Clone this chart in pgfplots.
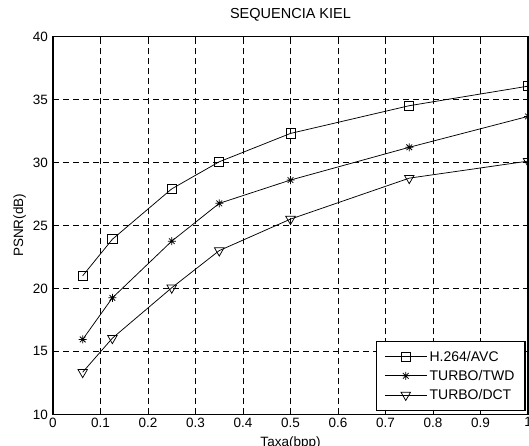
\documentclass[border=0pt]{standalone}
\usepackage{fontspec}
\setmainfont{Liberation Sans}
\usepackage{pgfplots}
\pgfplotsset{compat=1.18}

\newcommand{\ff}{\fontsize{13.5}{16}\selectfont}

% MATLAB-like '*' marker: + and x together
\pgfdeclareplotmark{mstar}{%
  \pgfpathmoveto{\pgfqpoint{0pt}{\pgfplotmarksize}}%
  \pgfpathlineto{\pgfqpoint{0pt}{-\pgfplotmarksize}}%
  \pgfpathmoveto{\pgfqpoint{\pgfplotmarksize}{0pt}}%
  \pgfpathlineto{\pgfqpoint{-\pgfplotmarksize}{0pt}}%
  \pgfpathmoveto{\pgfqpoint{.707\pgfplotmarksize}{.707\pgfplotmarksize}}%
  \pgfpathlineto{\pgfqpoint{-.707\pgfplotmarksize}{-.707\pgfplotmarksize}}%
  \pgfpathmoveto{\pgfqpoint{-.707\pgfplotmarksize}{.707\pgfplotmarksize}}%
  \pgfpathlineto{\pgfqpoint{.707\pgfplotmarksize}{-.707\pgfplotmarksize}}%
  \pgfusepathqstroke}

\begin{document}
\begin{tikzpicture}
\begin{axis}[
    name=ax,
    scale only axis,
    width=475pt, height=378pt,
    xmin=0, xmax=1, ymin=10, ymax=40,
    xtick={0,0.1,0.2,0.3,0.4,0.5,0.6,0.7,0.8,0.9,1},
    ytick={10,15,20,25,30,35,40},
    /pgf/number format/assume math mode=true,
    grid=major,
    grid style={black, line width=0.6pt, dash pattern=on 6pt off 4pt},
    axis line style={black, line width=1.2pt},
    tick align=inside, major tick length=5pt,
    tick style={black, line width=0.6pt},
    tick label style={font=\ff},
    xticklabel style={anchor=north, inner sep=0pt, yshift=-3pt},
    yticklabel style={anchor=east, inner sep=0pt, xshift=-5pt},
    title={SEQUENCIA KIEL},
    title style={font=\fontsize{14.5}{17}\selectfont, at={(0.5,1)}, anchor=base, yshift=12pt, inner sep=0pt},
    xlabel={Taxa(bpp)},
    xlabel style={font=\ff, at={(0.5,0)}, anchor=base, yshift=-32pt, inner sep=0pt},
    ylabel={PSNR(dB)},
    ylabel style={font=\ff, at={(0,0.5)}, anchor=base, yshift=30pt, inner sep=0pt},
    legend cell align=left,
    legend image code/.code={%
        \draw[mark repeat=2,mark phase=2,#1]
        plot coordinates {(0pt,0pt) (21pt,0pt) (42pt,0pt)};},
    legend style={font=\fontsize{14}{16}\selectfont, at={(1,0)}, anchor=south east,
        xshift=-2.5pt, yshift=3.5pt,
        draw=black, line width=1.2pt, fill=white,
        inner xsep=8pt, inner ysep=7pt, row sep=2.5pt,
        nodes={inner sep=2.5pt}},
]
\addplot[black, line width=0.75pt, mark=square, mark size=4.6pt,
         mark options={solid, line width=0.75pt}]
    coordinates {(0.0625,21.0)(0.125,23.9)(0.25,27.9)(0.35,30.05)(0.5,32.3)(0.75,34.5)(1,36.05)};
\addlegendentry{H.264/AVC}
\addplot[black, line width=0.75pt, mark=mstar, mark size=4pt,
         mark options={solid, line width=0.75pt}]
    coordinates {(0.0625,15.95)(0.125,19.25)(0.25,23.75)(0.35,26.75)(0.5,28.6)(0.75,31.2)(1,33.65)};
\addlegendentry{TURBO/TWD}
\addplot[black, line width=0.75pt, mark=triangle, mark size=5.5pt,
         mark options={solid, rotate=180, line width=0.75pt}]
    coordinates {(0.0625,13.35)(0.125,16.05)(0.25,20.05)(0.35,23.0)(0.5,25.5)(0.75,28.75)(1,30.1)};
\addlegendentry{TURBO/DCT}
\end{axis}
\pgfresetboundingbox
\path[use as bounding box] ([xshift=-53pt,yshift=-30.7pt]ax.south west)
    rectangle ([xshift=1pt,yshift=36.4pt]ax.north east);
\end{tikzpicture}
\end{document}
